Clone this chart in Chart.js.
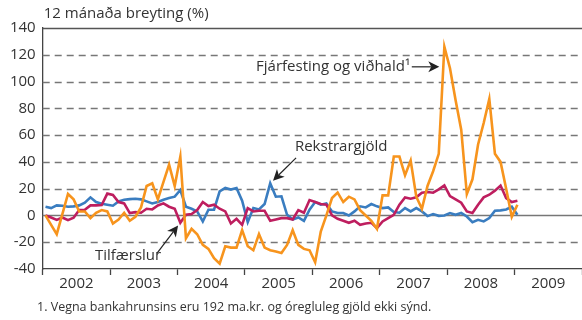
<!DOCTYPE html>
<html>
<head>
<meta charset="utf-8">
<script src="https://cdn.jsdelivr.net/npm/chart.js@4.4.0/dist/chart.umd.min.js"></script>
<style>
  html, body { margin: 0; padding: 0; background: #fff; }
  #wrap { width: 582px; height: 320px; position: relative; }
</style>
</head>
<body>
<div id="wrap"><canvas id="chart"></canvas></div>
<script>
// Year labels on the time axis (each year spans 12 months)
const years = ['2002', '2003', '2004', '2005', '2006', '2007', '2008', '2009'];

// 12-month change (%), monthly from January 2002 to January 2009
const fjarfesting = [
  0, -7, -14, 1, 16, 12, 3, 3, -2, 2, 4, 3,
  -6, -3, 2, -4, -1, 6, 22, 24, 12, 25, 38, 22,
  44, -17, -10, -14, -22, -25, -32, -36, -23, -24, -24, -11,
  -23, -26, -14, -24, -26, -27, -28, -22, -11, -22, -25, -26,
  -35, -12, 0, 13, 17, 10, 14, 12, 4, 0, -4, -10,
  15, 15, 44, 44, 30, 41, 14, 5, 22, 33, 46, 126,
  110, 86, 64, 16, 27, 53, 69, 87, 46, 40, 20, -1,
  8
];
const rekstrargjold = [
  6.5, 5.5, 7.5, 7.3, 6.5, 6.8, 7.5, 9.5, 13.5, 10, 8.7, 8,
  7.3, 10.5, 11.7, 12.2, 12.5, 12, 10.5, 9, 10, 11.7, 13, 14,
  19, 6.5, 5, 3, -4.5, 4.3, 4.3, 18, 20.5, 19.3, 20.5, 11,
  -5, 5.5, 4.5, 8.5, 24, 14, 14.3, 0.5, -3, -1.5, -4, 4.3,
  10, 8, 9, 3, 1.8, 1.8, 0, 3, 6.8, 6, 8.5, 6.8,
  5.5, 6, 2.5, 2, 5.5, 3, 5.5, 3, -0.5, 1, -0.3, 0,
  1.8, 0.5, 1.8, -0.8, -5, -3.3, -4.5, -2, 3.5, 3.8, 4.5, 6.5,
  0.5
];
const tilfaerslur = [
  0, -1.5, -3.3, -1.5, -3.5, -1.7, 4, 4.3, 7.5, 7.5, 7.8, 16.3,
  15.3, 10, 9, 1.8, 2.5, 2, 5, 4.5, 7.5, 9, 6.5, 5,
  -5.5, 0.5, 1, 4, 10, 7, 8, 5, 3, -6, -2.5, -7,
  5.5, 3, 3.5, 3.5, -4, -3, -2, -2, -3, 4, 2, 11.5,
  10, 8.5, 8, 0, -2.5, -4, -5.5, -4, -7, -6, -5.5, -9.5,
  -4.5, -2, 0.5, 8, 13.5, 12.5, 13.5, 17, 17.5, 17, 19.5, 22.5,
  14.5, 12, 9.5, 3, 1.8, 8, 13.5, 15.5, 18.5, 22.3, 13, 10,
  11
];

const FONT = '"Open Sans", "Noto Sans", sans-serif';
const TEXT = '#333333';

// each value sits in the middle of its month
const toPoints = arr => arr.map((v, i) => ({ x: i + 0.5, y: v }));

// horizontal reference lines: solid frame at the top, solid zero line, dashed elsewhere
const guideLines = {
  id: 'guideLines',
  beforeDatasetsDraw(chart) {
    const { ctx, chartArea: a, scales: { y } } = chart;
    ctx.save();
    y.ticks.forEach(t => {
      const v = t.value;
      if (v === y.min) return;
      const py = Math.round(y.getPixelForValue(v)) + 0.5;
      ctx.beginPath();
      if (v === y.max) {
        ctx.setLineDash([]);
        ctx.strokeStyle = '#555';
        ctx.lineWidth = 1.3;
      } else if (v === 0) {
        ctx.setLineDash([]);
        ctx.strokeStyle = '#777';
        ctx.lineWidth = 1.5;
      } else {
        ctx.setLineDash([7, 5]);
        ctx.strokeStyle = '#777';
        ctx.lineWidth = 1.3;
      }
      ctx.moveTo(a.left, py);
      ctx.lineTo(a.right, py);
      ctx.stroke();
    });
    ctx.restore();
  }
};

// series labels with pointer arrows (positions in month / percent units)
const callouts = [
  { text: 'Fjárfesting og viðhald¹', align: 'right', at: [65.4, 111], from: [65.7, 111], to: [70.6, 111] },
  { text: 'Rekstrargjöld', align: 'left', at: [44.9, 51.5], from: [45.1, 43], to: [41.0, 26] },
  { text: 'Tilfærslur', align: 'left', at: [9.3, -30.3], from: [20.4, -28], to: [24.1, -7.5] }
];

function arrowHead(ctx, x1, y1, x2, y2) {
  const ang = Math.atan2(y2 - y1, x2 - x1);
  ctx.save();
  ctx.translate(x2, y2);
  ctx.rotate(ang);
  ctx.beginPath();
  ctx.moveTo(0, 0);
  ctx.lineTo(-11, -5.5);
  ctx.lineTo(-8, 0);
  ctx.lineTo(-11, 5.5);
  ctx.closePath();
  ctx.fill();
  ctx.restore();
}

const labels = {
  id: 'labels',
  afterDatasetsDraw(chart) {
    const { ctx, scales: { x, y } } = chart;
    ctx.save();
    ctx.strokeStyle = '#222';
    ctx.font = '15px ' + FONT;
    ctx.textBaseline = 'middle';
    callouts.forEach(c => {
      ctx.textAlign = c.align;
      ctx.fillStyle = TEXT;
      ctx.fillText(c.text, x.getPixelForValue(c.at[0]), y.getPixelForValue(c.at[1]));
      const x1 = x.getPixelForValue(c.from[0]), y1 = y.getPixelForValue(c.from[1]);
      const x2 = x.getPixelForValue(c.to[0]), y2 = y.getPixelForValue(c.to[1]);
      ctx.lineWidth = 1.2;
      ctx.beginPath();
      ctx.moveTo(x1, y1);
      const ang = Math.atan2(y2 - y1, x2 - x1);
      ctx.lineTo(x2 - 8 * Math.cos(ang), y2 - 8 * Math.sin(ang));
      ctx.stroke();
      ctx.fillStyle = '#222';
      arrowHead(ctx, x1, y1, x2, y2);
    });
    ctx.restore();
  },
  afterDraw(chart) {
    const { ctx, chartArea: a } = chart;
    ctx.save();
    ctx.fillStyle = TEXT;
    ctx.textAlign = 'left';
    ctx.textBaseline = 'middle';
    ctx.font = '15px ' + FONT;
    ctx.fillText('12 mánaða breyting (%)', a.left + 1, 14);
    ctx.font = '12.5px ' + FONT;
    ctx.fillText('1. Vegna bankahrunsins eru 192 ma.kr. og óregluleg gjöld ekki sýnd.', 37, 307);
    ctx.restore();
  }
};

new Chart(document.getElementById('chart'), {
  type: 'line',
  data: {
    datasets: [
      { label: 'Fjárfesting og viðhald', data: toPoints(fjarfesting), borderColor: '#F7941D' },
      { label: 'Tilfærslur', data: toPoints(tilfaerslur), borderColor: '#BE1E5F' },
      { label: 'Rekstrargjöld', data: toPoints(rekstrargjold), borderColor: '#3A7DC0' }
    ]
  },
  options: {
    responsive: true,
    maintainAspectRatio: false,
    devicePixelRatio: 1,
    animation: false,
    layout: { padding: { top: 28, right: 0, bottom: 0, left: 0 } },
    elements: {
      line: { borderWidth: 2.6, tension: 0, fill: false },
      point: { radius: 0, hoverRadius: 0 }
    },
    plugins: { legend: { display: false }, tooltip: { enabled: false } },
    scales: {
      x: {
        type: 'linear',
        min: 0,
        max: 96,
        afterFit: s => { s.height = 51; },
        ticks: {
          stepSize: 6,
          autoSkip: false,
          maxRotation: 0,
          padding: 0,
          color: TEXT,
          font: { family: FONT, size: 15 },
          callback: v => (v % 12 === 6 ? years[(v - 6) / 12] : '')
        },
        grid: {
          drawOnChartArea: false,
          drawTicks: true,
          tickLength: 6,
          tickWidth: 1.3,
          tickColor: c => (c.tick && c.tick.value % 12 === 0 ? '#444' : 'rgba(0,0,0,0)')
        },
        border: { color: '#444', width: 1.3 }
      },
      y: {
        min: -40,
        max: 140,
        afterFit: s => { s.width = 42.7; },
        ticks: {
          stepSize: 20,
          padding: 7,
          color: TEXT,
          font: { family: FONT, size: 15 }
        },
        grid: { drawOnChartArea: false, drawTicks: false },
        border: { color: '#444', width: 1.3 }
      }
    }
  },
  plugins: [guideLines, labels]
});
</script>
</body>
</html>
